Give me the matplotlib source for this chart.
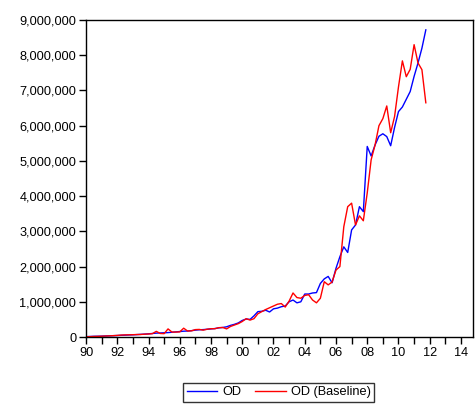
import matplotlib
matplotlib.use("Agg")
import matplotlib.pyplot as plt
from matplotlib.ticker import FuncFormatter, MultipleLocator
import numpy as np

plt.rcParams['font.family'] = ['Liberation Sans', 'DejaVu Sans']

start_year = 1990
# quarterly observations, 1990Q1 .. 2011Q4 (values in thousands)
od = [10, 15, 20, 22, 25, 30, 35, 38, 42, 48, 52, 58, 62, 68, 75, 82,
      90, 100, 110, 115, 120, 125, 135, 145, 155, 165, 170, 180,
      195, 205, 210, 220, 230, 240, 260, 270, 290, 330, 360, 400,
      470, 510, 500, 600, 720, 730, 760, 710, 800, 820, 860, 880,
      1000, 1050, 970, 1000, 1220, 1220, 1250, 1260, 1520, 1650, 1720, 1540,
      1950, 2280, 2560, 2400, 3040, 3180, 3700, 3560,
      5410, 5140, 5450, 5700, 5770, 5690, 5430, 5950,
      6400, 6530, 6750, 6970, 7400, 7780, 8200, 8720]
od_base = [5, 10, 15, 18, 22, 28, 32, 38, 45, 55, 60, 62, 65, 70, 72, 80,
           85, 95, 160, 100, 95, 230, 140, 140, 145, 250, 170, 175,
           210, 215, 195, 220, 235, 235, 265, 270, 230, 300, 340, 380,
           440, 520, 480, 520, 660, 720, 780, 830, 880, 930, 950, 850,
           1020, 1250, 1120, 1100, 1180, 1200, 1050, 970, 1100, 1570, 1480, 1560,
           1900, 2000, 3130, 3700, 3800, 3180, 3440, 3300,
           4090, 5030, 5450, 6000, 6200, 6560, 5800, 6260,
           7100, 7840, 7390, 7600, 8300, 7780, 7590, 6650]
labels = ['OD', 'OD (Baseline)']
x_ticks = list(range(1990, 2015, 2))
x_ticklabels = [f"{y % 100:02d}" for y in x_ticks]

t = start_year + np.arange(len(od)) * 0.25
od_v = np.array(od) * 1000
base_v = np.array(od_base) * 1000

fig = plt.figure(figsize=(4.76, 4.05), dpi=100)
ax = fig.add_axes([0.1807, 0.1679, 0.9937 - 0.1807, 0.9506 - 0.1679])
l1, = ax.plot(t, od_v, color='#0000ff', lw=1.0, label=labels[0])
l2, = ax.plot(t, base_v, color='#ff0000', lw=1.0, label=labels[1])

ax.set_xlim(1990, 2014.77)
ax.set_ylim(0, 9000000)
ax.set_xticks(x_ticks)
ax.set_xticklabels(x_ticklabels)
ax.xaxis.set_minor_locator(MultipleLocator(1))
ax.yaxis.set_major_locator(MultipleLocator(1000000))
ax.yaxis.set_major_formatter(FuncFormatter(lambda v, p: f"{int(v):,}"))
ax.tick_params(axis='both', which='both', direction='out', length=5, width=1,
               labelsize=9.2, colors='black', top=False, right=False)
ax.tick_params(axis='x', pad=2)
ax.tick_params(axis='y', pad=2)
for s in ax.spines.values():
    s.set_linewidth(1.0)
    s.set_color('black')

leg = fig.legend(handles=[l1, l2], loc='center', bbox_to_anchor=(0.586, 0.031),
                 ncol=2, fontsize=9.2, frameon=True, fancybox=False,
                 edgecolor='black', handlelength=2.4, columnspacing=1.1,
                 handletextpad=0.4, borderpad=0.25)
leg.get_frame().set_linewidth(1.0)

fig.savefig('out.png', dpi=100)
